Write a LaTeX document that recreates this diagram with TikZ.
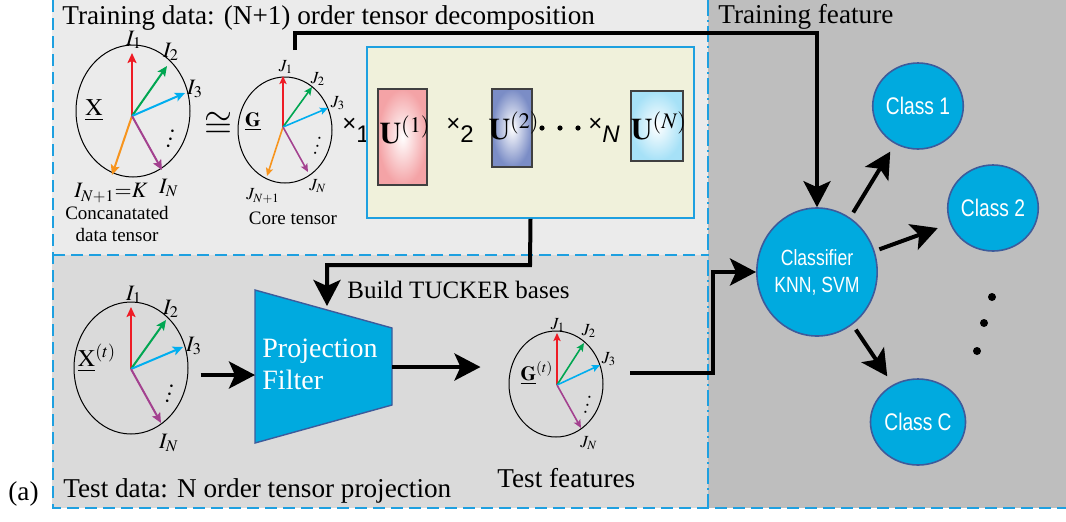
\documentclass[tikz,border=0pt]{standalone}
\usepackage{mathptmx}
\usepackage{fontspec}
\setmainfont{Liberation Serif}
\setsansfont{Liberation Sans}
\newfontfamily\classfont[FakeStretch=0.8]{Liberation Sans}
\usetikzlibrary{arrows.meta,shapes.geometric}

\definecolor{dashblue}{HTML}{1EA0E0}
\definecolor{trainbg}{HTML}{EBEBEB}
\definecolor{testbg}{HTML}{DADADA}
\definecolor{featbg}{HTML}{BEBEBE}
\definecolor{boxyellow}{HTML}{F0F1DB}
\definecolor{fillcyan}{HTML}{00AADF}
\definecolor{edgeblue}{HTML}{3D5B9B}
\definecolor{vred}{HTML}{EE1C25}
\definecolor{vgreen}{HTML}{00A651}
\definecolor{vcyan}{HTML}{00AEEF}
\definecolor{vorange}{HTML}{F7941D}
\definecolor{vpurple}{HTML}{A3418F}
\definecolor{upink}{HTML}{F4A3A6}
\definecolor{ublue}{HTML}{7B8DC6}
\definecolor{ulight}{HTML}{A6E1F7}

\newcommand{\modeprod}[1]{\texttimes\raisebox{-0.45em}{#1}}

\begin{document}
\begin{tikzpicture}[x=0.5pt,y=-0.5pt,
  tensor/.style={draw, ellipse, line width=0.5pt, inner sep=0pt},
  vec/.style={line width=1pt, -{Stealth[length=5pt,width=4.5pt,inset=1pt]}},
  svec/.style={line width=0.8pt, -{Stealth[length=4pt,width=3.6pt,inset=0.8pt]}},
  flow/.style={line width=2pt, -{Stealth[length=13pt,width=13.5pt,inset=3pt]}},
  classnode/.style={ellipse, draw=edgeblue, line width=0.8pt, fill=fillcyan, text=white,
    inner sep=0pt, align=center, font=\classfont\fontsize{12}{13.5}\selectfont},
  bigtext/.style={font=\fontsize{13.6}{15}\selectfont, inner sep=0pt, anchor=base west},
  ilabel/.style={font=\fontsize{11}{12}\selectfont, inner sep=0pt},
  jlabel/.style={font=\fontsize{8.5}{10}\selectfont, inner sep=0pt},
  small/.style={font=\fontsize{9.5}{11}\selectfont, inner sep=0pt},
  factor/.style={draw=black!75, line width=0.6pt, inner sep=0pt},
  mult/.style={font=\sffamily\fontsize{12}{14}\selectfont, inner sep=0pt},
  border/.style={dashblue, line width=1.2pt, dash pattern=on 6pt off 3pt}]
\useasboundingbox (0,0) rectangle (1066,521);

% regions
\fill[trainbg] (52,0) rectangle (708,255);
\fill[testbg] (52,255) rectangle (708,508);
\fill[featbg] (708,0) rectangle (1066,508);
\draw[border] (53,0) -- (53,508) -- (1066,508);
\draw[border] (53,255) -- (708,255);
\draw[dashblue, line width=0.6pt, dash pattern=on 8pt off 2pt on 1pt off 2pt] (708,0) -- (708,508);

\node[bigtext] (trtitle) at (62,24) {Training data: (N+1) order tensor decomposition};
\node[bigtext] (fttitle) at (718,23) {Training feature};
\node[bigtext] (tsttitle) at (63,497) {Test data: N order tensor projection};
\node[bigtext] (tag) at (8,500) {(a)};

% data tensor X
\node[tensor, minimum width=57pt, minimum height=66pt] (X) at (133,111) {};
\coordinate (xo) at (132,116);
\draw[vec, vred] (xo) -- (132,53);
\draw[vec, vgreen] (xo) -- (167,66);
\draw[vec, vcyan] (xo) -- (185,93);
\draw[vec, vorange] (xo) -- (112,175);
\draw[vec, vpurple] (xo) -- (162,170);
\node[ilabel] (xi1) at (134,40) {$I_1$};
\node[ilabel] (xi2) at (171,52) {$I_2$};
\node[ilabel] (xi3) at (195,89) {$I_3$};
\node[ilabel] (xin) at (169,188) {$I_N$};
\node[ilabel] (xik) at (111,193) {$I_{N+1}{=}K$};
\node[rotate=-15, font=\fontsize{11}{12}\selectfont] (xdots) at (172,133) {$\vdots$};
\node[font=\fontsize{12}{14}\selectfont] (xname) at (94,110) {$\underline{\mathrm{X}}$};
\node[small] (xcap1) at (117,213) {Concanatated};
\node[small] (xcap2) at (117,235) {data tensor};

\node[font=\fontsize{18}{20}\selectfont] (approx) at (218,125) {$\cong$};

% core tensor G
\node[tensor, minimum width=47pt, minimum height=53pt] (G) at (285,130) {};
\coordinate (go) at (283,127);
\draw[svec, vred] (go) -- (283,76);
\draw[svec, vgreen] (go) -- (312,87);
\draw[svec, vcyan] (go) -- (328,108);
\draw[svec, vorange] (go) -- (267,176);
\draw[svec, vpurple] (go) -- (308,172);
\node[jlabel] (gj1) at (286,67) {$J_1$};
\node[jlabel] (gj2) at (318,79) {$J_2$};
\node[jlabel] (gj3) at (338,103) {$J_3$};
\node[jlabel] (gjn) at (318,186) {$J_N$};
\node[jlabel] (gjk) at (263,196) {$J_{N+1}$};
\node[rotate=-15, font=\fontsize{9}{10}\selectfont] (gdots) at (319,140) {$\vdots$};
\node[font=\fontsize{10}{12}\selectfont] (gname) at (253,122) {$\underline{\mathbf{G}}$};
\node[small] (gcap) at (293,218) {Core tensor};

% factor matrices
\node[mult] (m1) at (356,130) {\modeprod{1}};
\node[draw=dashblue, line width=0.9pt, fill=boxyellow, minimum width=163.5pt, minimum height=85.5pt] (ybox) at (530.5,132.5) {};
\node[factor, inner color=white, outer color=upink, minimum width=24.5pt, minimum height=48pt] (u1) at (402.5,137) {};
\node[factor, inner color=white, outer color=ublue, minimum width=20pt, minimum height=39pt] (u2) at (512,128) {};
\node[factor, inner color=white, outer color=ulight, minimum width=26pt, minimum height=35pt] (un) at (657,126) {};
\node[font=\fontsize{15}{16}\selectfont] (u1name) at (405,130) {$\mathbf{U}^{(1)}$};
\node[font=\fontsize{15}{16}\selectfont] (u2name) at (514,126) {$\mathbf{U}^{(2)}$};
\node[font=\fontsize{15}{16}\selectfont] (unname) at (659,126) {$\mathbf{U}^{(N)}$};
\node[mult] (m2) at (460,130) {\modeprod{2}};
\fill (542,128) circle (1.3pt) (560,128) circle (1.3pt) (578,128) circle (1.3pt);
\node[mult] (mn) at (604,130) {\modeprod{\itshape N}};

% test tensor X(t)
\node[tensor, minimum width=57pt, minimum height=66pt] (Xt) at (131,368) {};
\coordinate (xto) at (131,369);
\draw[vec, vred] (xto) -- (131,307);
\draw[vec, vgreen] (xto) -- (166,320);
\draw[vec, vcyan] (xto) -- (183,347);
\draw[vec, vpurple] (xto) -- (161,423);
\node[ilabel] (ti1) at (134,295) {$I_1$};
\node[ilabel] (ti2) at (171,309) {$I_2$};
\node[ilabel] (ti3) at (194,346) {$I_3$};
\node[ilabel] (tin) at (169,443) {$I_N$};
\node[rotate=-15, font=\fontsize{11}{12}\selectfont] (tdots) at (171,388) {$\vdots$};
\node[font=\fontsize{12}{14}\selectfont] (xtname) at (97,358) {$\underline{\mathrm{X}}^{(t)}$};

% projection filter
\fill[fillcyan, draw=edgeblue, line width=0.7pt] (255,290) -- (392,328) -- (392,405) -- (255,443) -- cycle;
\node[anchor=west, align=left, text=white, font=\fontsize{14}{16}\selectfont, inner sep=0pt] (pf) at (262,364) {Projection\\Filter};
\coordinate (pfin) at (255,375);
\coordinate (pfout) at (392,367);
\coordinate (pftop) at (327,306);
\node[bigtext, font=\fontsize{12.5}{15}\selectfont] (build) at (347,298) {Build TUCKER bases};

% test features G(t)
\node[tensor, minimum width=47pt, minimum height=53pt] (Gt) at (556,384) {};
\coordinate (gto) at (557,385);
\draw[svec, vred] (gto) -- (557,333);
\draw[svec, vgreen] (gto) -- (584,343);
\draw[svec, vcyan] (gto) -- (600,365);
\draw[svec, vpurple] (gto) -- (581,428);
\node[jlabel] (tj1) at (558,325) {$J_1$};
\node[jlabel] (tj2) at (589,331) {$J_2$};
\node[jlabel] (tj3) at (609,359) {$J_3$};
\node[jlabel] (tjn) at (589,443) {$J_N$};
\node[rotate=-15, font=\fontsize{9}{10}\selectfont] (gtdots) at (589,399) {$\vdots$};
\node[font=\fontsize{10}{12}\selectfont] (gtname) at (537,373) {$\underline{\mathbf{G}}^{(t)}$};
\node[bigtext] (tfeat) at (497,487) {Test features};

% classifier and classes
\node[classnode, font=\classfont\fontsize{11}{13.5}\selectfont, minimum width=57pt, minimum height=64pt] (clf) at (817,272) {Classifier\\KNN, SVM};
\node[classnode, minimum width=38pt, minimum height=43pt] (c1) at (918,106) {Class 1};
\node[classnode, minimum width=38pt, minimum height=43pt] (c2) at (993,208) {Class 2};
\node[classnode, minimum width=38pt, minimum height=43pt] (cC) at (918,422) {Class C};
\fill (992,297) circle (2pt) (984,323) circle (2pt) (977,351) circle (2pt);

% flows
\coordinate (gtop) at (295,50);
\coordinate (gtout) at (630,373);
\draw[flow] (gtop) -- (295,33) -| (clf.north);
\draw[flow] (ybox.south) -- (530,265) -| (pftop);
\draw[flow, shorten <=6pt] (Xt.east |- pfin) -- (pfin);
\draw[flow, shorten >=14pt] (pfout) -- (Gt.west |- pfout);
\draw[flow] (gtout) -- (713,373) |- (clf.west);
\draw[flow, shorten <=3pt, shorten >=4.5pt] (clf) -- (c1);
\draw[flow, shorten <=2.5pt, shorten >=6.5pt] (clf) -- (c2);
\draw[flow, shorten <=3pt, shorten >=5pt] (clf) -- (cC);
\end{tikzpicture}
\end{document}
